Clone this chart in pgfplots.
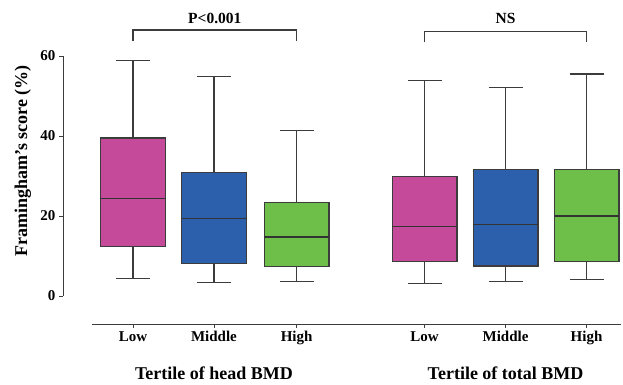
\documentclass[border=0pt]{standalone}
\usepackage{fontspec}
\setmainfont{Liberation Serif}
\usepackage{pgfplots}
\pgfplotsset{compat=1.18}
\definecolor{cmag}{RGB}{198,74,154}
\definecolor{cblue}{RGB}{44,96,172}
\definecolor{cgreen}{RGB}{110,190,74}
\definecolor{cedge}{RGB}{60,60,60}
\begin{document}
\begin{tikzpicture}
\begin{axis}[
  x=81pt, y=4pt,
  xmin=-0.864, xmax=6.0, ymin=-7, ymax=70,
  clip=false,
  axis line style={draw=none},
  xtick={0,1,2.02,3.6,4.6,5.6},
  xticklabels={Low,Middle,High,Low,Middle,High},
  ytick={0,20,40,60},
  xtick pos=bottom, ytick pos=left,
  tick align=outside,
  major tick length=4pt,
  tick style={line width=0.9pt, color=cedge},
  ticklabel style={font=\fontsize{15}{17}\selectfont\bfseries},
  /pgf/number format/assume math mode=true,
  xticklabel style={yshift=0pt},
  wh/.style={draw=cedge, line width=1.1pt, mark=none, solid},
  bx/.style={draw=cedge, line width=1.1pt, mark=none, solid},
  md/.style={draw=black!80, line width=1.4pt, mark=none, solid},
]
% invisible frame fixing the picture size
\path (axis cs:-1.642,-22.25) rectangle (axis cs:6.05,74);
% Head BMD: Low
\addplot[wh] coordinates {(0,39.5) (0,58.8)};
\addplot[wh] coordinates {(-0.21,58.8) (0.21,58.8)};
\addplot[wh] coordinates {(0,12.3) (0,4.4)};
\addplot[wh] coordinates {(-0.21,4.4) (0.21,4.4)};
\addplot[bx, fill=cmag] coordinates {(-0.4,12.3) (0.4,12.3) (0.4,39.5) (-0.4,39.5)} -- cycle;
\addplot[md] coordinates {(-0.4,24.4) (0.4,24.4)};
% Head BMD: Middle
\addplot[wh] coordinates {(1,30.8) (1,54.9)};
\addplot[wh] coordinates {(0.79,54.9) (1.21,54.9)};
\addplot[wh] coordinates {(1,8.2) (1,3.3)};
\addplot[wh] coordinates {(0.79,3.3) (1.21,3.3)};
\addplot[bx, fill=cblue] coordinates {(0.6,8.2) (1.4,8.2) (1.4,30.8) (0.6,30.8)} -- cycle;
\addplot[md] coordinates {(0.6,19.4) (1.4,19.4)};
% Head BMD: High
\addplot[wh] coordinates {(2.02,23.4) (2.02,41.3)};
\addplot[wh] coordinates {(1.81,41.3) (2.23,41.3)};
\addplot[wh] coordinates {(2.02,7.3) (2.02,3.7)};
\addplot[wh] coordinates {(1.81,3.7) (2.23,3.7)};
\addplot[bx, fill=cgreen] coordinates {(1.62,7.3) (2.42,7.3) (2.42,23.4) (1.62,23.4)} -- cycle;
\addplot[md] coordinates {(1.62,14.7) (2.42,14.7)};
% Total BMD: Low
\addplot[wh] coordinates {(3.6,29.8) (3.6,53.9)};
\addplot[wh] coordinates {(3.39,53.9) (3.81,53.9)};
\addplot[wh] coordinates {(3.6,8.6) (3.6,3.2)};
\addplot[wh] coordinates {(3.39,3.2) (3.81,3.2)};
\addplot[bx, fill=cmag] coordinates {(3.2,8.6) (4.0,8.6) (4.0,29.8) (3.2,29.8)} -- cycle;
\addplot[md] coordinates {(3.2,17.3) (4.0,17.3)};
% Total BMD: Middle
\addplot[wh] coordinates {(4.6,31.7) (4.6,52.2)};
\addplot[wh] coordinates {(4.39,52.2) (4.81,52.2)};
\addplot[wh] coordinates {(4.6,7.5) (4.6,3.7)};
\addplot[wh] coordinates {(4.39,3.7) (4.81,3.7)};
\addplot[bx, fill=cblue] coordinates {(4.2,7.5) (5.0,7.5) (5.0,31.7) (4.2,31.7)} -- cycle;
\addplot[md] coordinates {(4.2,17.9) (5.0,17.9)};
% Total BMD: High
\addplot[wh] coordinates {(5.6,31.7) (5.6,55.5)};
\addplot[wh] coordinates {(5.39,55.5) (5.81,55.5)};
\addplot[wh] coordinates {(5.6,8.6) (5.6,4.2)};
\addplot[wh] coordinates {(5.39,4.2) (5.81,4.2)};
\addplot[bx, fill=cgreen] coordinates {(5.2,8.6) (6.0,8.6) (6.0,31.7) (5.2,31.7)} -- cycle;
\addplot[md] coordinates {(5.2,20.0) (6.0,20.0)};
% axis lines
\draw[cedge, line width=0.9pt] (axis cs:-0.5,-7) -- (axis cs:6.02,-7);
\draw[cedge, line width=0.9pt] (axis cs:-0.864,0) -- (axis cs:-0.864,60);
% brackets
\draw[cedge, line width=1.1pt] (axis cs:0,63.8) -- (axis cs:0,66.5) -- (axis cs:2.02,66.5) -- (axis cs:2.02,63.8);
\node[font=\fontsize{15.5}{17}\selectfont\bfseries] at (axis cs:1.01,69.4) {P<0.001};
\draw[cedge, line width=1.1pt] (axis cs:3.6,63.4) -- (axis cs:3.6,66.1) -- (axis cs:5.6,66.1) -- (axis cs:5.6,63.4);
\node[font=\fontsize{15.5}{17}\selectfont\bfseries] at (axis cs:4.6,69.4) {NS};
% group labels
\node[font=\fontsize{18}{20}\selectfont\bfseries] at (axis cs:1.0,-19.25) {Tertile of head BMD};
\node[font=\fontsize{18}{20}\selectfont\bfseries] at (axis cs:4.6,-19.25) {Tertile of total BMD};
% y label
\node[font=\fontsize{18}{20}\selectfont\bfseries, rotate=90] at (axis cs:-1.36,33.75) {Framingham's score (\%)};
\end{axis}
\end{tikzpicture}
\end{document}
